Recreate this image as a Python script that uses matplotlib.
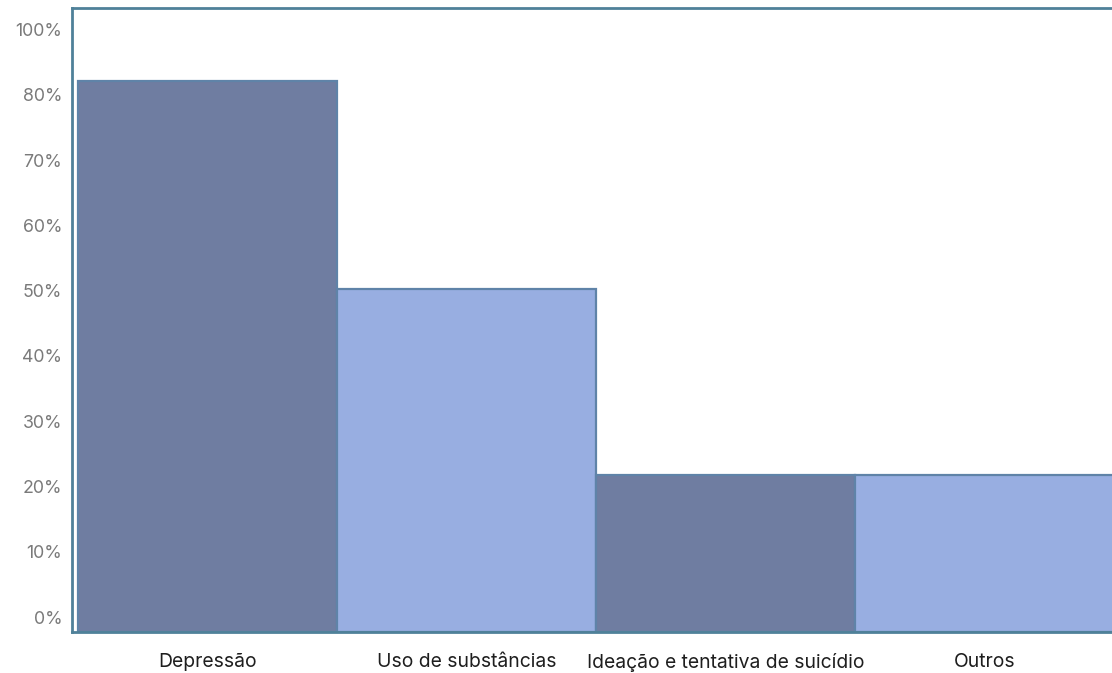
import matplotlib
matplotlib.use("Agg")
import matplotlib.pyplot as plt
import numpy as np

# Dados do gráfico
categorias = ["Depressão", "Uso de substâncias", "Ideação e tentativa de suicídio", "Outros"]
valores = [82.1, 50.2, 21.7, 21.7]
ticks_y = [0, 10, 20, 30, 40, 50, 60, 70, 80, 90]
rotulos_y = ["0%", "10%", "20%", "30%", "40%", "50%", "60%", "70%", "80%", "100%"]

cor_escura = "#6f7da1"
cor_clara = "#98aee1"
cor_borda = "#5f83a8"
cor_moldura = "#4f8199"

plt.rcParams["font.family"] = ["Inter", "DejaVu Sans"]

y_min, y_max = -2.3, 93.3

fig = plt.figure(figsize=(11.12, 6.73), dpi=100)
ax = fig.add_axes([0.0647, 0.0609, 0.9353, 0.9271])

x = np.arange(len(categorias))
cores = [cor_escura if i % 2 == 0 else cor_clara for i in range(len(categorias))]
ax.bar(x, np.array(valores) - y_min, bottom=y_min, width=1.0,
       color=cores, edgecolor=cor_borda, linewidth=1.6)

ax.set_xlim(-0.523, 3.49)
ax.set_ylim(y_min, y_max)

ax.set_yticks(ticks_y)
ax.set_yticklabels(rotulos_y)
ax.set_xticks(x)
ax.set_xticklabels(categorias)

ax.tick_params(axis="y", length=0, pad=7, labelsize=12.8, labelcolor="#7a7a7a")
ax.tick_params(axis="x", length=0, pad=15, labelsize=13.9, labelcolor="#1e1e1e")

for lado in ["left", "top", "bottom"]:
    ax.spines[lado].set_color(cor_moldura)
    ax.spines[lado].set_linewidth(2)
ax.spines["right"].set_visible(False)

fig.savefig("out.png", dpi=100)
